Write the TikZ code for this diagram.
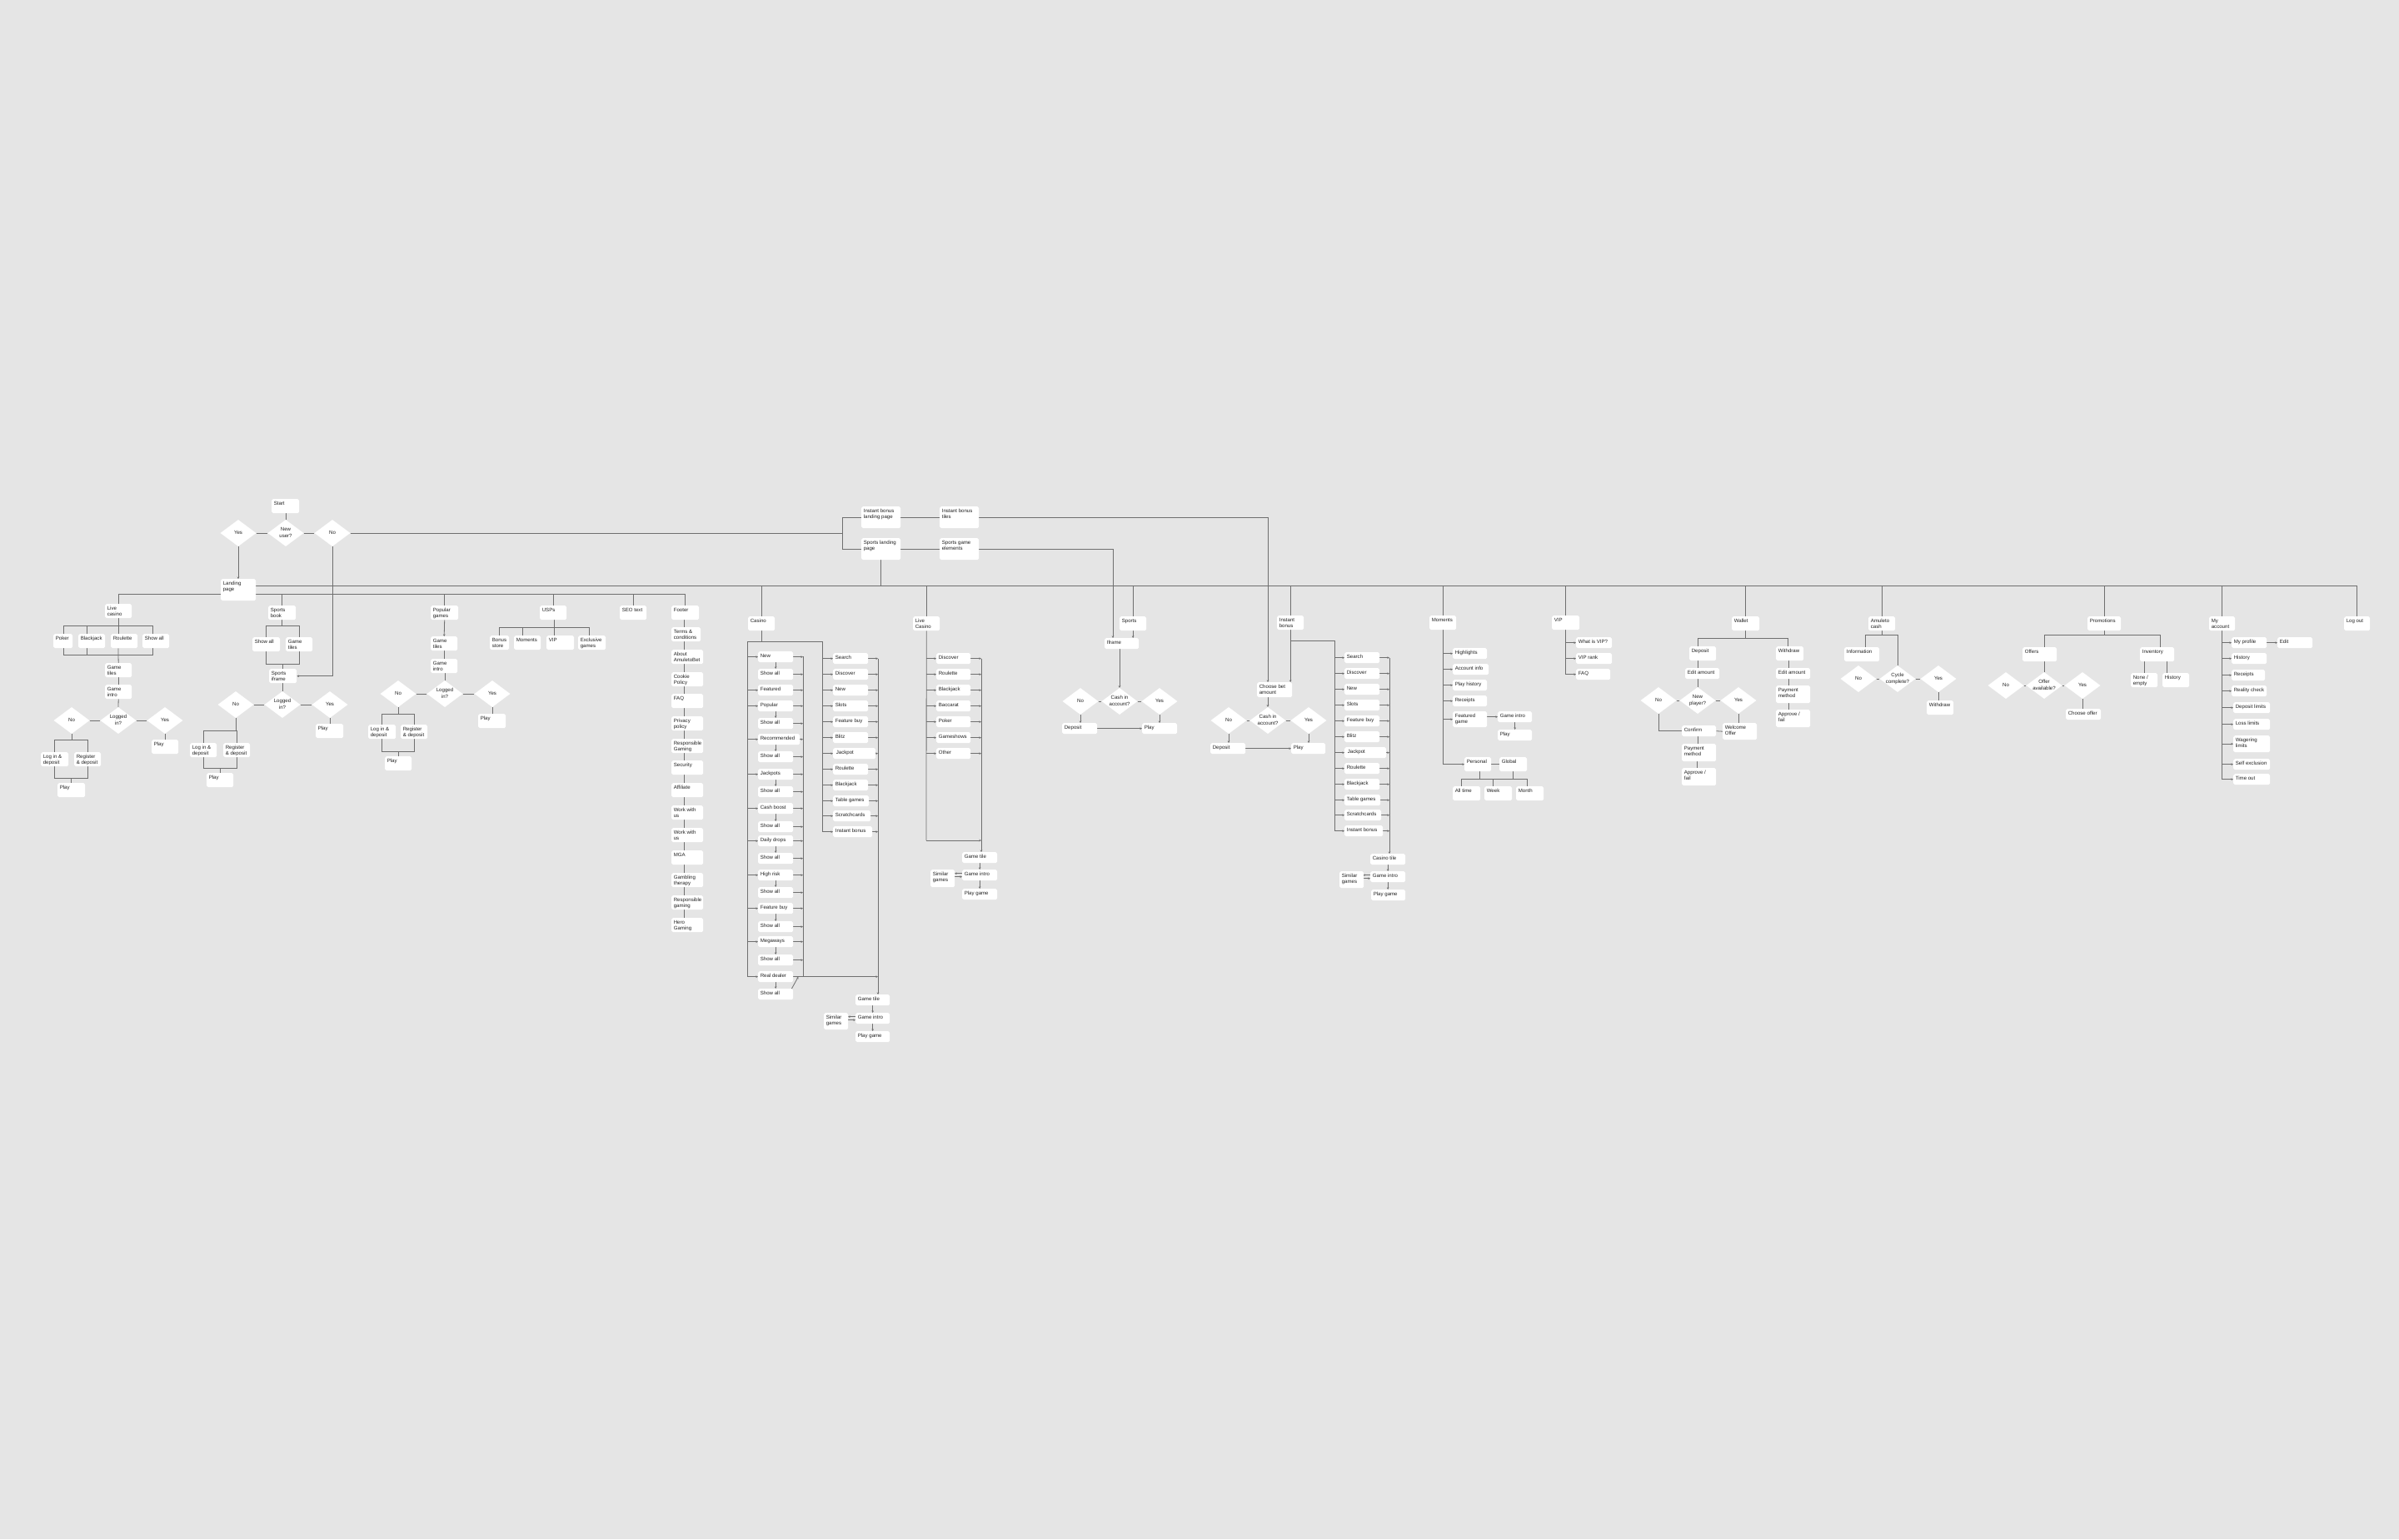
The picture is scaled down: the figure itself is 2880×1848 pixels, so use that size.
\documentclass[tikz,border=0pt]{standalone}
\usepackage{fontspec}
\setmainfont{Liberation Sans}
\usetikzlibrary{shapes.geometric,arrows.meta,calc}
\definecolor{bgc}{HTML}{E5E5E5}
\definecolor{lnc}{HTML}{6F6F6F}
\definecolor{txc}{HTML}{222222}
\pgfdeclarelayer{bgl}\pgfdeclarelayer{lnl}\pgfsetlayers{bgl,lnl,main}
\tikzset{
 bx/.style={fill=white,rounded corners=1.8pt,anchor=north west,inner sep=0pt,draw=none},
 tx/.style={anchor=north west,inner sep=2.6pt,align=left,text=txc,font=\fontsize{6.1}{7.6}\selectfont},
 dm/.style={diamond,aspect=1.35,fill=white,draw=none,minimum width=43pt,minimum height=32pt,inner sep=0pt,text=txc,font=\fontsize{6.1}{7.6}\selectfont},
 ln/.style={draw=lnc,line width=0.8pt},
 ar/.style={ln,-{Stealth[length=2.6pt,width=2.6pt]}},
}
\newcommand\mybox[6]{\node[bx,minimum width=#4pt,minimum height=#5pt] (#1) at (#2,#3) {};\node[tx] (#1-t) at (#1.north west) {#6};}
\newcommand\mydia[4]{\node[dm] (#1) at (#2,#3) {\makebox[0pt]{\begin{tabular}{@{}c@{}}#4\end{tabular}}};}
\newcommand\simar[1]{\draw[ar] ([yshift=2pt]#1.west) -- +(-9,0);\draw[ar] ([yshift=-2pt,xshift=-9pt]#1.west) -- +(9,0);}
\begin{document}
\begin{tikzpicture}[x=1pt,y=-1pt]
\begin{pgfonlayer}{bgl}
\fill[bgc] (0,0) rectangle (2880,1848);
\end{pgfonlayer}
\useasboundingbox (0,0) rectangle (2880,1848);
% ---------- top
\mybox{start}{326}{599}{33}{17}{Start}
\mydia{nu}{343}{640}{New\\user?}
\mydia{yes0}{286}{640}{Yes}
\mydia{no0}{399}{640}{No}
\mybox{land}{265}{695}{42}{26}{Landing\\page}
% ---------- live casino (left)
\mybox{lcas}{126}{725}{32}{17}{Live\\casino}
\mybox{lpok}{64}{761}{23}{17}{Poker}
\mybox{lbj}{94}{761}{32}{17}{Blackjack}
\mybox{lrou}{133}{761}{32}{17}{Roulette}
\mybox{lsa}{171}{761}{32}{17}{Show all}
\mybox{lgt}{126}{796}{32}{17}{Game\\tiles}
\mybox{lgi}{126}{822}{32}{17}{Game\\intro}
\mydia{lli}{142}{865}{Logged\\in?}
\mydia{lno}{86}{865}{No}
\mydia{lyes}{198}{865}{Yes}
\mybox{lplay}{182}{888}{32}{17}{Play}
\mybox{llog}{49}{903}{33}{17}{Log in \&\\deposit}
\mybox{lreg}{89}{903}{32}{17}{Register\\\& deposit}
\mybox{lp2}{69}{940}{33}{17}{Play}
% ---------- sports book
\mybox{sbook}{322}{727}{33}{17}{Sports\\book}
\mybox{ssa}{303}{765}{33}{17}{Show all}
\mybox{sgt}{343}{765}{32}{17}{Game\\tiles}
\mybox{sif}{323}{803}{33}{17}{Sports\\iframe}
\mydia{sli}{339}{846}{Logged\\in?}
\mydia{sno}{283}{846}{No}
\mydia{syes}{396}{846}{Yes}
\mybox{splay}{379}{869}{33}{17}{Play}
\mybox{slog}{228}{892}{32}{17}{Log in \&\\deposit}
\mybox{sreg}{268}{892}{32}{17}{Register\\\& deposit}
\mybox{sp2}{248}{928}{32}{17}{Play}
% ---------- popular games
\mybox{popg}{517}{727}{33}{17}{Popular\\games}
\mybox{pgt}{517}{764}{32}{17}{Game\\tiles}
\mybox{pgi}{517}{791}{32}{17}{Game\\intro}
\mydia{pli}{534}{833}{Logged\\in?}
\mydia{pno}{478}{833}{No}
\mydia{pyes}{591}{833}{Yes}
\mybox{pplay}{574}{857}{33}{17}{Play}
\mybox{plog}{442}{870}{33}{17}{Log in \&\\deposit}
\mybox{preg}{481}{870}{32}{17}{Register\\\& deposit}
\mybox{pp2}{462}{908}{32}{17}{Play}
% ---------- USPs, SEO, footer
\mybox{usps}{648}{727}{32}{17}{USPs}
\mybox{ubs}{588}{763}{23}{17}{Bonus\\store}
\mybox{umom}{617}{763}{32}{17}{Moments}
\mybox{uvip}{656}{763}{33}{17}{VIP}
\mybox{uexc}{694}{763}{33}{17}{Exclusive\\games}
\mybox{seo}{744}{727}{32}{17}{SEO text}
\mybox{footer}{806}{727}{33}{17}{Footer}
\mybox{f1}{806}{753}{35}{17}{Terms \&\\conditions}
\mybox{f2}{806}{780}{38}{17}{About\\AmuletoBet}
\mybox{f3}{806}{807}{38}{17}{Cookie\\Policy}
\mybox{f4}{806}{833}{38}{17}{FAQ}
\mybox{f5}{806}{860}{38}{17}{Privacy\\policy}
\mybox{f6}{806}{887}{38}{17}{Responsible\\Gaming}
\mybox{f7}{806}{913}{38}{17}{Security}
\mybox{f8}{806}{940}{38}{17}{Affiliate}
\mybox{f9}{806}{967}{38}{17}{Work with\\us}
\mybox{f10}{806}{994}{38}{17}{Work with\\us}
\mybox{f11}{806}{1021}{38}{17}{MGA}
\mybox{f12}{806}{1048}{38}{17}{Gambling\\therapy}
\mybox{f13}{806}{1075}{38}{17}{Responsible\\gaming}
\mybox{f14}{806}{1102}{38}{17}{Hero\\Gaming}
% ---------- casino
\mybox{casino}{898}{740}{32}{17}{Casino}
\mybox{c1}{910}{782}{42}{13}{New}
\mybox{c2}{910}{803}{42}{13}{Show all}
\mybox{c3}{910}{822}{42}{13}{Featured}
\mybox{c4}{910}{841}{42}{13}{Popular}
\mybox{c5}{910}{862}{42}{13}{Show all}
\mybox{c6}{910}{881}{50}{13}{Recommended}
\mybox{c7}{910}{902}{42}{13}{Show all}
\mybox{c8}{910}{923}{42}{13}{Jackpots}
\mybox{c9}{910}{944}{42}{13}{Show all}
\mybox{c10}{910}{964}{42}{13}{Cash boost}
\mybox{c11}{910}{986}{42}{13}{Show all}
\mybox{c12}{910}{1003}{42}{13}{Daily drops}
\mybox{c13}{910}{1024}{42}{13}{Show all}
\mybox{c14}{910}{1044}{42}{13}{High risk}
\mybox{c15}{910}{1065}{42}{13}{Show all}
\mybox{c16}{910}{1084}{42}{13}{Feature buy}
\mybox{c17}{910}{1106}{42}{13}{Show all}
\mybox{c18}{910}{1124}{42}{13}{Megaways}
\mybox{c19}{910}{1146}{42}{13}{Show all}
\mybox{c20}{910}{1166}{42}{13}{Real dealer}
\mybox{c21}{910}{1187}{42}{13}{Show all}
\mybox{d1}{1000}{784}{42}{13}{Search}
\mybox{d2}{1000}{803}{42}{13}{Discover}
\mybox{d3}{1000}{822}{42}{13}{New}
\mybox{d4}{1000}{841}{42}{13}{Slots}
\mybox{d5}{1000}{860}{42}{13}{Feature buy}
\mybox{d6}{1000}{879}{42}{13}{Blitz}
\mybox{d7}{1000}{898}{51}{13}{\,Jackpot}
\mybox{d8}{1000}{917}{42}{13}{Roulette}
\mybox{d9}{1000}{936}{42}{13}{Blackjack}
\mybox{d10}{1000}{955}{43}{13}{Table games}
\mybox{d11}{1000}{973}{45}{13}{Scratchcards}
\mybox{d12}{1000}{992}{47}{13}{Instant bonus}
\mybox{cgt}{1027}{1194}{41}{13}{Game tile}
\mybox{cgi}{1027}{1216}{41}{13}{Game intro}
\mybox{cpg}{1027}{1238}{41}{13}{Play game}
\mybox{csim}{989}{1216}{29}{20}{Similar\\games}
% ---------- live casino
\mybox{lc}{1096}{740}{32}{17}{Live\\Casino}
\mybox{e1}{1124}{784}{41}{13}{Discover}
\mybox{e2}{1124}{803}{41}{13}{Roulette}
\mybox{e3}{1124}{822}{41}{13}{Blackjack}
\mybox{e4}{1124}{841}{41}{13}{Baccarat}
\mybox{e5}{1124}{860}{41}{13}{Poker}
\mybox{e6}{1124}{879}{41}{13}{Gameshows}
\mybox{e7}{1124}{898}{41}{13}{Other}
\mybox{lgt2}{1155}{1023}{42}{13}{Game tile}
\mybox{lgi2}{1155}{1044}{42}{13}{Game intro}
\mybox{lpg2}{1155}{1067}{42}{13}{Play game}
\mybox{lsim}{1117}{1044}{29}{21}{Similar\\games}
% ---------- landing pages, sports
\mybox{iblp}{1034}{608}{47}{26}{Instant bonus\\landing page}
\mybox{slp}{1034}{646}{47}{26}{Sports landing\\page}
\mybox{ibt}{1128}{608}{47}{26}{Instant bonus\\tiles}
\mybox{sge}{1128}{646}{47}{26}{Sports game\\elements}
\mybox{sports}{1344}{740}{32}{17}{Sports}
\mybox{ifr}{1326}{766}{41}{13}{Iframe}
\mydia{scash}{1344}{842}{Cash in\\account?}
\mydia{sno2}{1297}{842}{No}
\mydia{syes2}{1392}{842}{Yes}
\mybox{sdep}{1275}{868}{42}{13}{Deposit}
\mybox{splay2}{1371}{868}{42}{13}{Play}
% ---------- instant bonus
\mybox{instb}{1533}{739}{32}{17}{Instant\\bonus}
\mybox{cba}{1509}{819}{42}{18}{Choose bet\\amount}
\mydia{icash}{1522}{865}{Cash in\\account?}
\mydia{ino}{1475}{865}{No}
\mydia{iyes}{1571}{865}{Yes}
\mybox{idep}{1453}{892}{42}{13}{Deposit}
\mybox{iplay}{1550}{892}{41}{13}{Play}
\mybox{g1}{1614}{783}{42}{13}{Search}
\mybox{g2}{1614}{802}{42}{13}{Discover}
\mybox{g3}{1614}{821}{42}{13}{New}
\mybox{g4}{1614}{840}{42}{13}{Slots}
\mybox{g5}{1614}{859}{42}{13}{Feature buy}
\mybox{g6}{1614}{878}{42}{13}{Blitz}
\mybox{g7}{1614}{897}{50}{13}{\,Jackpot}
\mybox{g8}{1614}{916}{42}{13}{Roulette}
\mybox{g9}{1614}{935}{42}{13}{Blackjack}
\mybox{g10}{1614}{954}{43}{13}{Table games}
\mybox{g11}{1614}{972}{44}{13}{Scratchcards}
\mybox{g12}{1614}{991}{46}{13}{Instant bonus}
\mybox{itile}{1645}{1025}{42}{13}{Casino tile}
\mybox{igi}{1645}{1046}{42}{13}{Game intro}
\mybox{ipg}{1646}{1068}{41}{13}{Play game}
\mybox{isim}{1608}{1046}{29}{20}{Similar\\games}
% ---------- moments
\mybox{mom}{1716}{739}{32}{17}{Moments}
\mybox{m1}{1744}{778}{41}{13}{Highlights}
\mybox{m2}{1744}{797}{43}{13}{Account info}
\mybox{m3}{1744}{816}{41}{13}{Play history}
\mybox{m4}{1744}{835}{41}{13}{Receipts}
\mybox{m5}{1744}{854}{41}{19}{Featured\\game}
\mybox{mgi}{1798}{854}{41}{13}{Game intro}
\mybox{mplay}{1798}{876}{41}{13}{Play}
\mybox{per}{1758}{909}{32}{17}{Personal}
\mybox{glob}{1800}{909}{33}{17}{Global}
\mybox{allt}{1744}{944}{33}{17}{All time}
\mybox{week}{1782}{944}{33}{17}{Week}
\mybox{month}{1820}{944}{33}{17}{Month}
% ---------- VIP
\mybox{vipb}{1863}{739}{33}{17}{VIP}
\mybox{v1}{1892}{765}{43}{13}{What is VIP?}
\mybox{v2}{1892}{784}{43}{13}{VIP rank}
\mybox{v3}{1892}{803}{41}{13}{FAQ}
% ---------- wallet
\mybox{wal}{2079}{740}{33}{17}{Wallet}
\mybox{wdep}{2028}{776}{32}{17}{Deposit}
\mybox{wwd}{2132}{776}{33}{17}{Withdraw}
\mybox{wea}{2023}{802}{41}{13}{Edit amount}
\mydia{wnp}{2038}{841}{New\\player?}
\mydia{wno}{1991}{841}{No}
\mydia{wyes}{2087}{841}{Yes}
\mybox{wconf}{2019}{871}{41}{13}{Confirm}
\mybox{wwel}{2068}{868}{41}{20}{Welcome\\Offer}
\mybox{wpm}{2019}{893}{41}{21}{Payment\\method}
\mybox{waf}{2019}{922}{41}{21}{Approve /\\fail}
\mybox{wea2}{2132}{802}{41}{13}{Edit amount}
\mybox{wpm2}{2132}{823}{41}{21}{Payment\\method}
\mybox{waf2}{2132}{852}{41}{21}{Approve /\\fail}
% ---------- amuleto cash
\mybox{amc}{2243}{740}{32}{17}{Amuleto\\cash}
\mybox{ainfo}{2214}{777}{42}{17}{Information}
\mydia{acyc}{2278}{815}{Cycle\\complete?}
\mydia{ano}{2231}{815}{No}
\mydia{ayes}{2327}{815}{Yes}
\mybox{awd}{2313}{841}{32}{17}{Withdraw}
% ---------- promotions
\mybox{promo}{2506}{740}{40}{17}{Promotions}
\mybox{offers}{2428}{777}{41}{17}{Offers}
\mybox{inv}{2569}{777}{41}{17}{Inventory}
\mydia{oav}{2454}{823}{Offer\\available?}
\mydia{ono}{2408}{823}{No}
\mydia{oyes}{2500}{823}{Yes}
\mybox{chof}{2480}{851}{42}{13}{Choose offer}
\mybox{none}{2558}{808}{32}{17}{None /\\empty}
\mybox{phist}{2596}{808}{32}{17}{History}
% ---------- my account
\mybox{myacc}{2652}{740}{31}{17}{My\\account}
\mybox{a1}{2679}{765}{42}{13}{My profile}
\mybox{edit}{2734}{765}{42}{13}{Edit}
\mybox{a2}{2679}{784}{42}{13}{History}
\mybox{a3}{2679}{804}{40}{13}{Receipts}
\mybox{a4}{2679}{823}{42}{13}{Reality check}
\mybox{a5}{2681}{843}{44}{13}{Deposit limits}
\mybox{a6}{2681}{863}{44}{13}{Loss limits}
\mybox{a7}{2681}{883}{44}{20}{Wagering\\limits}
\mybox{a8}{2681}{911}{44}{13}{Self exclusion}
\mybox{a9}{2681}{929}{44}{13}{Time out}
\mybox{logout}{2814}{740}{31}{17}{Log out}
% ---------- coordinates
\coordinate (busR) at (2829,703);
\coordinate (subR) at (823,713);
\coordinate (nob) at (1011,640);
\coordinate (cL) at (897,770);
\coordinate (cM) at (987,770);
\coordinate (cR1) at (964,788);
\coordinate (cR2) at (1054,791);
\coordinate (lcL) at (1112,1009);
\coordinate (lcR) at (1178,791);
\coordinate (ibL) at (1602,769);
\coordinate (ibR) at (1668,790);
% ================= connectors
\begin{pgfonlayer}{lnl}
% top
\draw[ln] (start.south -| nu.north) -- (nu.north);
\draw[ln] (yes0.east) -- (nu.west);
\draw[ln] (nu.east) -- (no0.west);
\draw[ar] (yes0.south) -- (yes0.south |- land.north);
\draw[ln] (no0.east) -- (nob);
\draw[ln] (iblp.west -| nob) -- (slp.west -| nob);
\draw[ln] (iblp.west -| nob) -- (iblp.west);
\draw[ln] (slp.west -| nob) -- (slp.west);
\draw[ar] (no0.south) |- (sif.east);
% buses
\draw[ln] (land.east |- busR) -| (logout.north);
\draw[ln] (land.east |- subR) -| (footer.north);
\draw[ln] (land.west |- subR) -| (lcas.north);
\foreach \n in {sbook,popg,usps,seo} {\draw[ln] (\n.north) -- (\n.north |- subR);}
\foreach \n in {casino,lc,sports,instb,mom,vipb,wal,amc,promo,myacc} {\draw[ln] (\n.north) -- (\n.north |- busR);}
\draw[ln] (slp.south) -- (slp.south |- busR);
% live casino tree
\draw[ln] (lcas.south) -- (lcas.south |- 0,751);
\draw[ln] (lpok.north -| 76,0) -- (76,751) -- (183,751) -- (lsa.north -| 183,0);
\draw[ln] (lbj.north -| 104,0) -- (104,751);
\draw[ln] (lrou.north -| 142,0) -- (142,751);
\draw[ln] (lpok.south -| 76,0) -- (76,786) -- (183,786) -- (lsa.south -| 183,0);
\draw[ln] (lbj.south -| 104,0) -- (104,786);
\draw[ln] (lrou.south -| 142,0) -- (142,786) -- (lgt.north);
\draw[ln] (lgt.south) -- (lgi.north);
\draw[ln] (lgi.south) -- (lli.north);
\draw[ln] (lno.east) -- (lli.west);
\draw[ln] (lli.east) -- (lyes.west);
\draw[ln] (lyes.south) -- (lyes.south |- lplay.north);
\draw[ln] (lno.south) -- (lno.south |- 0,888);
\draw[ln] (llog.north) -- (llog.north |- 0,888) -- (lreg.north |- 0,888) -- (lreg.north);
\draw[ln] (llog.south) -- (llog.south |- 0,934) -- (lreg.south |- 0,934) -- (lreg.south);
\draw[ln] (lp2.north) -- (lp2.north |- 0,934);
% sports book tree
\draw[ln] (sbook.south) -- (sbook.south |- 0,751);
\draw[ln] (ssa.north) -- (ssa.north |- 0,751) -- (sgt.north |- 0,751) -- (sgt.north);
\draw[ln] (ssa.south) -- (ssa.south |- 0,797) -- (sgt.south |- 0,797) -- (sgt.south);
\draw[ln] (sif.north) -- (sif.north |- 0,797);
\draw[ln] (sif.south -| sli.north) -- (sli.north);
\draw[ln] (sno.east) -- (sli.west);
\draw[ln] (sli.east) -- (syes.west);
\draw[ln] (syes.south) -- (syes.south |- splay.north);
\draw[ln] (sno.south) -- (sno.south |- 0,877);
\draw[ln] (slog.north) -- (slog.north |- 0,877) -- (sreg.north |- 0,877) -- (sreg.north);
\draw[ln] (slog.south) -- (slog.south |- 0,922) -- (sreg.south |- 0,922) -- (sreg.south);
\draw[ln] (sp2.north) -- (sp2.north |- 0,922);
% popular games tree
\draw[ar] (popg.south) -- (pgt.north);
\draw[ln] (pgt.south) -- (pgi.north);
\draw[ln] (pgi.south -| pli.north) -- (pli.north);
\draw[ln] (pno.east) -- (pli.west);
\draw[ln] (pli.east) -- (pyes.west);
\draw[ln] (pyes.south) -- (pyes.south |- pplay.north);
\draw[ln] (pno.south) -- (pno.south |- 0,857);
\draw[ln] (plog.north) -- (plog.north |- 0,857) -- (preg.north |- 0,857) -- (preg.north);
\draw[ln] (plog.south) -- (plog.south |- 0,902) -- (preg.south |- 0,902) -- (preg.south);
\draw[ln] (pp2.north) -- (pp2.north |- 0,902);
% USPs
\draw[ln] (usps.south -| 665,0) -- (665,753);
\draw[ln] (ubs.north) -- (ubs.north |- 0,753) -- (707,753) -- (uexc.north -| 707,0);
\draw[ln] (umom.north -| 627,0) -- (627,753);
\draw[ln] (uvip.north -| 665,0) -- (665,753);
% footer
\draw[ln] (footer.south -| 821,0) -- (f14.north -| 821,0);
% casino
\draw[ln] (casino.south) -- (casino.south |- cL);
\draw[ln] (cL) -- (cM);
\draw[ln] (cL) -- (cL |- c20.west);
\draw[ln] (cM) -- (cM |- d12.west);
\foreach \n in {1,3,4,6,8,10,12,14,16,18,20} {\draw[ar] (cL |- c\n.west) -- (c\n.west);}
\foreach \a/\b in {1/2,4/5,6/7,8/9,10/11,12/13,14/15,16/17,18/19,20/21} {\draw[ar] (c\a.south -| c\b.north) -- (c\b.north);}
\foreach \n in {1,...,19} {\draw[ar] (c\n.east) -- (cR1 |- c\n.east);}
\draw[ln] (cR1) -- (cR1 |- c20.east);
\draw[ln] (c20.east) -- (cR1 |- c20.east);
\draw[ar] (cR1 |- c20.east) -- (cR2 |- c20.east);
\draw[ar] ([xshift=-2pt]c21.north east) -- ([xshift=6pt]c20.east);
\foreach \n in {1,...,12} {\draw[ar] (cM |- d\n.west) -- (d\n.west); \draw[ar] (d\n.east) -- (cR2 |- d\n.east);}
\draw[ar] (cR2) -- (cR2 |- cgt.north);
\draw[ar] (cgt.south) -- (cgi.north);
\draw[ar] (cgi.south) -- (cpg.north);
\simar{cgi}
% live casino
\draw[ln] (lc.south) -- (lcL);
\draw[ar] (lcL) -- (lcR |- lcL);
\foreach \n in {1,...,7} {\draw[ar] (lcL |- e\n.west) -- (e\n.west); \draw[ar] (e\n.east) -- (lcR |- e\n.east);}
\draw[ar] (lcR) -- (lcR |- lgt2.north);
\draw[ar] (lgt2.south) -- (lgi2.north);
\draw[ar] (lgi2.south) -- (lpg2.north);
\simar{lgi2}
% landing pages / sports
\draw[ln] (iblp.east) -- (ibt.west);
\draw[ln] (slp.east) -- (sge.west);
\draw[ar] (ibt.east) -| (cba.north -| 1522,0);
\draw[ar] (sge.east) -| (ifr.north -| 1336,0);
\draw[ar] (sports.south) -- (sports.south |- ifr.north);
\draw[ar] (ifr.south -| scash.north) -- (scash.north);
\draw[ln] (sno2.east) -- (scash.west);
\draw[ln] (scash.east) -- (syes2.west);
\draw[ar] (sno2.south) -- (sno2.south |- sdep.north);
\draw[ar] (syes2.south) -- (syes2.south |- splay2.north);
\draw[ar] (sdep.east) -- (splay2.west);
% instant bonus
\draw[ar] (instb.south) -- (instb.south |- cba.north);
\draw[ar] (cba.south -| icash.north) -- (icash.north);
\draw[ln] (ino.east) -- (icash.west);
\draw[ln] (icash.east) -- (iyes.west);
\draw[ar] (ino.south) -- (ino.south |- idep.north);
\draw[ar] (iyes.south) -- (iyes.south |- iplay.north);
\draw[ar] (idep.east) -- (iplay.west);
\draw[ln] (instb.south |- ibL) -- (ibL) -- (ibL |- g12.west);
\foreach \n in {1,...,12} {\draw[ar] (ibL |- g\n.west) -- (g\n.west); \draw[ar] (g\n.east) -- (ibR |- g\n.east);}
\draw[ar] (ibR) -- (ibR |- itile.north);
\draw[ar] (itile.south) -- (igi.north);
\draw[ar] (igi.south) -- (igi.south |- ipg.north);
\simar{igi}
% moments
\draw[ln] (mom.south) -- (mom.south |- per.west);
\draw[ar] (mom.south |- per.west) -- (per.west);
\foreach \n in {1,...,5} {\draw[ar] (mom.south |- m\n.west) -- (m\n.west);}
\draw[ar] (mgi.west -| m5.east) -- (mgi.west);
\draw[ar] (mgi.south) -- (mplay.north);
\draw[ln] (per.east) -- (glob.west);
\draw[ln] (per.south -| 1776,0) -- (1776,935);
\draw[ln] (glob.south) -- (glob.south |- 0,935);
\draw[ln] (allt.north -| 1754,0) -- (1754,935) -- (1833,935) -- (month.north -| 1833,0);
\draw[ln] (week.north -| 1792,0) -- (1792,935);
% VIP
\draw[ln] (vipb.south) -- (vipb.south |- v3.west);
\foreach \n in {1,2,3} {\draw[ar] (vipb.south |- v\n.west) -- (v\n.west);}
% wallet
\draw[ln] (wal.south) -- (wal.south |- 0,766);
\draw[ln] (wdep.north -| 2038,0) -- (2038,766) -- (2146,766) -- (wwd.north -| 2146,0);
\draw[ln] (wdep.south -| 2038,0) -- (wea.north -| 2038,0);
\draw[ln] (wea.south -| wnp.north) -- (wnp.north);
\draw[ln] (wno.east) -- (wnp.west);
\draw[ln] (wnp.east) -- (wyes.west);
\draw[ln] (wno.south) |- (wconf.west);
\draw[ln] (wyes.south) -- (wyes.south |- wwel.north);
\draw[ln] (wwel.west) -- (wconf.east);
\draw[ln] (wconf.south -| 2038,0) -- (wpm.north -| 2038,0);
\draw[ln] (wpm.south -| 2037,0) -- (waf.north -| 2037,0);
\draw[ln] (wwd.south -| 2147,0) -- (wea2.north -| 2147,0);
\draw[ln] (wea2.south -| 2147,0) -- (wpm2.north -| 2147,0);
\draw[ln] (wpm2.south -| 2147,0) -- (waf2.north -| 2147,0);
% amuleto cash
\draw[ln] (amc.south) -- (amc.south |- 0,762);
\draw[ln] (ainfo.north -| 2239,0) -- (2239,762) -- (2278,762) -- (acyc.north);
\draw[ln] (ano.east) -- (acyc.west);
\draw[ln] (acyc.east) -- (ayes.west);
\draw[ln] (ayes.south) -- (ayes.south |- awd.north);
% promotions
\draw[ln] (promo.south) -- (promo.south |- 0,762);
\draw[ln] (offers.north -| 2454,0) -- (2454,762) -- (2593,762) -- (inv.north -| 2593,0);
\draw[ln] (offers.south -| oav.north) -- (oav.north);
\draw[ln] (ono.east) -- (oav.west);
\draw[ln] (oav.east) -- (oyes.west);
\draw[ln] (oyes.south) -- (oyes.south |- chof.north);
\draw[ln] (inv.south -| none.north) -- (none.north);
\draw[ln] (inv.south -| 2601,0) -- (phist.north -| 2601,0);
% my account
\draw[ln] (myacc.south) -- (myacc.south |- a9.west);
\foreach \n in {1,...,9} {\draw[ar] (myacc.south |- a\n.west) -- (a\n.west);}
\draw[ar] (a1.east) -- (edit.west);
\end{pgfonlayer}
\end{tikzpicture}
\end{document}
